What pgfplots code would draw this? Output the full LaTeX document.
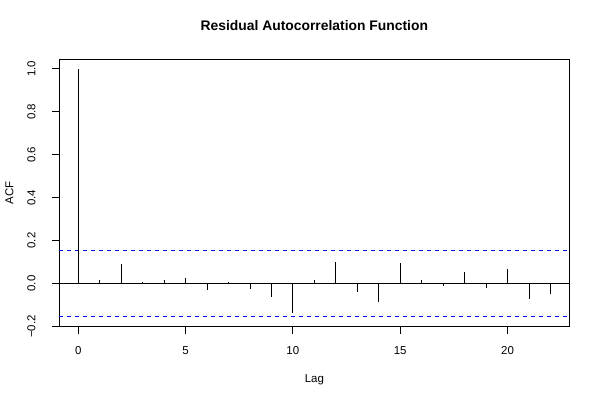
\documentclass[border=0pt]{standalone}
\usepackage{pgfplots}
\pgfplotsset{compat=1.18}
\usepackage{fontspec}
\setmainfont{Liberation Sans}
\begin{document}
\begin{tikzpicture}[x=1pt,y=1pt]
\path[use as bounding box] (0,0) rectangle (450,300);
\begin{axis}[
  at={(44.5pt,55pt)}, anchor=south west,
  scale only axis, width=382.5pt, height=200.8pt,
  xmin=-0.88, xmax=22.88, ymin=-0.2012, ymax=1.046,
  axis line style={line width=0.6pt},
  xtick={0,5,10,15,20},
  ytick={-0.2,0,0.2,0.4,0.6,0.8,1.0},
  yticklabels={−0.2,0.0,0.2,0.4,0.6,0.8,1.0},
  /pgf/number format/assume math mode=true,
  tick align=outside, tick pos=left,
  major tick length=5.5pt,
  tick style={black, line width=0.6pt},
  ticklabel style={font=\fontsize{8.6}{10}\selectfont},
  xticklabel style={anchor=base, yshift=-15.3pt},
  yticklabel style={xshift=-12.5pt, rotate=90, anchor=base},
  title={Residual Autocorrelation Function},
  title style={font=\bfseries\fontsize{10.4}{12}\selectfont, at={(axis description cs:0.5,1)}, anchor=base, yshift=15.2pt},
  xlabel={Lag},
  xlabel style={font=\fontsize{8.6}{10}\selectfont, at={(axis description cs:0.5,0)}, anchor=base, yshift=-41.5pt},
  ylabel={ACF},
  ylabel style={font=\fontsize{8.6}{10}\selectfont, at={(axis description cs:-0.0902,0.5)}, anchor=base, rotate=0},
  clip=false,
]
\addplot[black, line width=0.6pt] coordinates {(-0.88,0) (22.88,0)};
\addplot[blue, line width=0.6pt, dash pattern=on 3pt off 3pt] coordinates {(-0.88,0.154) (22.88,0.154)};
\addplot[blue, line width=0.6pt, dash pattern=on 3pt off 3pt] coordinates {(-0.88,-0.154) (22.88,-0.154)};
\addplot[ycomb, black, line width=0.6pt, no marks] coordinates {
(0,1.0) (1,0.014) (2,0.090) (3,0.005) (4,0.017) (5,0.026) (6,-0.030) (7,0.005)
(8,-0.028) (9,-0.062) (10,-0.138) (11,0.018) (12,0.101) (13,-0.040) (14,-0.084)
(15,0.095) (16,0.014) (17,-0.012) (18,0.053) (19,-0.023) (20,0.068) (21,-0.073) (22,-0.051)
};
\end{axis}
\end{tikzpicture}
\end{document}
